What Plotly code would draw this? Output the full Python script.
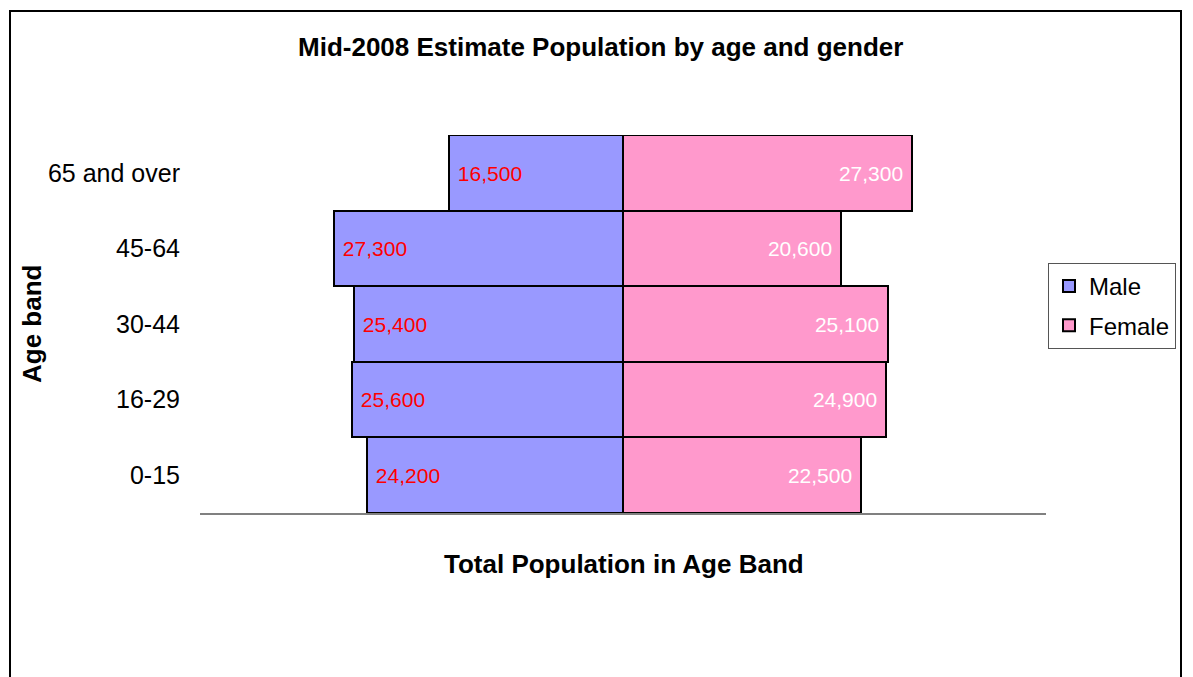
import plotly.graph_objects as go

age_bands = ["0-15", "16-29", "30-44", "45-64", "65 and over"]
male = [24200, 25600, 25400, 27300, 16500]
female = [22500, 24900, 25100, 20600, 27300]

FONT = "Liberation Sans, Arial, sans-serif"

W, H = 1193, 677
L, R, T, B = 200, 1046, 135, 513  # plot area in pixels

def px_x(p):
    return (p - L) / (R - L)

def px_y(p):
    return (B - p) / (B - T)

NB = "\u00a0"

fig = go.Figure()
fig.add_trace(go.Bar(
    y=age_bands, x=[-v for v in male], orientation="h", name="Male",
    marker=dict(color="#9999FF", line=dict(color="black", width=2)),
    text=[f"{NB}{v:,}" for v in male], textposition="inside", insidetextanchor="end",
    textfont=dict(color="#FF0000", size=21, family=FONT), legendgroup="m",
))
fig.add_trace(go.Bar(
    y=age_bands, x=female, orientation="h", name="Female",
    marker=dict(color="#FF99CC", line=dict(color="black", width=2)),
    text=[f"{v:,}{NB}" for v in female], textposition="inside", insidetextanchor="end",
    textfont=dict(color="white", size=21, family=FONT), legendgroup="f",
))

fig.update_layout(
    width=W, height=H,
    margin=dict(l=L, r=W - R, t=T, b=H - B, pad=0),
    paper_bgcolor="white", plot_bgcolor="white",
    barmode="relative", bargap=0,
    font=dict(family=FONT, size=24, color="black"),
    showlegend=True,
    legend=dict(x=px_x(1048), y=px_y(263), xanchor="left", yanchor="top",
                bordercolor="#555555", borderwidth=1, bgcolor="white",
                font=dict(size=24), traceorder="grouped", tracegroupgap=5),
    xaxis=dict(range=[-40000, 40000], showticklabels=False, showgrid=False,
               zeroline=False, showline=True, linecolor="#808080", linewidth=2,
               ticks="", fixedrange=True),
    yaxis=dict(showgrid=False, zeroline=False, showline=False, ticks="",
               tickfont=dict(size=25), ticklabelstandoff=19,
               range=[-0.5, 4.5]),
    shapes=[dict(type="rect", xref="paper", yref="paper",
                 x0=px_x(10), x1=px_x(1181), y0=px_y(700), y1=px_y(11),
                 line=dict(color="black", width=2), layer="below")],
    annotations=[
        dict(text="<b>Mid-2008 Estimate Population by age and gender</b>",
             xref="paper", yref="paper", x=px_x(600), y=px_y(47),
             xanchor="center", yanchor="middle", showarrow=False,
             font=dict(size=26)),
        dict(text="<b>Total Population in Age Band</b>",
             xref="paper", yref="paper", x=px_x(624), y=px_y(564),
             xanchor="center", yanchor="middle", showarrow=False,
             font=dict(size=26)),
        dict(text="<b>Age band</b>", textangle=-90,
             xref="paper", yref="paper", x=px_x(32), y=px_y(324),
             xanchor="center", yanchor="middle", showarrow=False,
             font=dict(size=26)),
    ],
)

fig.write_html("out.html")
